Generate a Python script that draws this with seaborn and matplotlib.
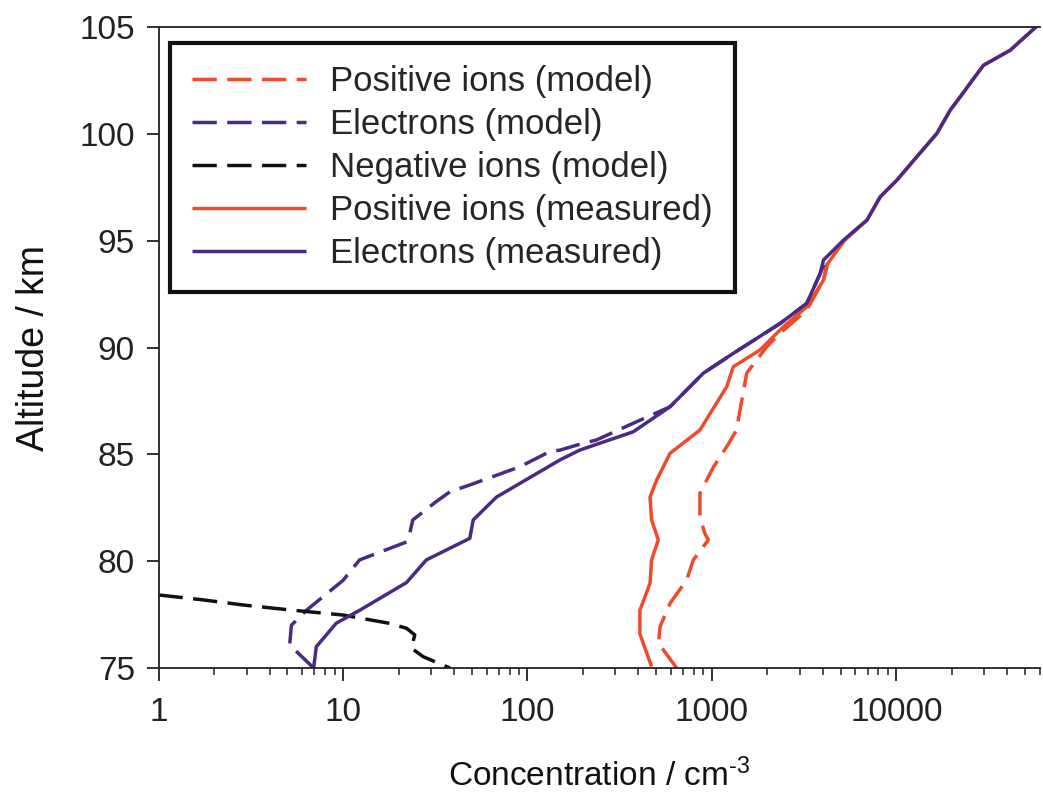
import matplotlib
matplotlib.use("Agg")
import matplotlib.pyplot as plt
import seaborn as sns
import pandas as pd
import numpy as np

# ---------------- data ----------------
pos_model_alt = [75.0, 76.16, 76.94, 78.03, 79.12, 80.06, 81.0, 81.3, 82.09, 83.18, 84.4, 85.36,
                 86.14, 87.08, 88.8, 90.04, 90.67, 91.76, 93.16, 93.94]
pos_model_conc = [644, 513, 524, 593, 730, 793, 957, 915, 861, 861, 1018, 1203,
                  1361, 1421, 1544, 1984, 2344, 3268, 4027, 4200]

ele_model_alt = [75.0, 76.08, 77.0, 77.7, 79.1, 80.06, 80.9, 81.3, 81.93, 82.79, 83.25, 83.57,
                 84.42, 85.13, 85.2, 85.52, 85.67, 86.46, 87.23, 88.8, 89.73, 91.13, 92.07, 93.47, 94.25]
ele_model_conc = [6.93, 5.14, 5.25, 6.33, 10.0, 12.3, 22.1, 23.0, 23.9, 32.0, 38.0, 48.7,
                  91, 132, 150, 200, 236, 375, 593, 898, 1306, 2344, 3268, 3864, 4200]

neg_model_alt = [78.42, 78.19, 77.95, 77.72, 77.48, 77.09, 76.86, 76.55, 75.93, 75.53, 75.0]
neg_model_conc = [1.0, 1.74, 2.87, 5.14, 10.0, 17.9, 22.1, 24.5, 23.5, 27.2, 38.0]

pos_meas_alt = [75.07, 76.6, 77.7, 78.97, 80.06, 81.0, 81.93, 83.0, 83.8, 85.05, 86.14, 88.17,
                89.1, 89.89, 90.98, 91.91, 93.16, 93.94, 95.03, 95.97, 97.06, 97.84, 98.93,
                100.03, 101.12, 101.74, 102.37, 103.22, 103.92, 105.05]
pos_meas_conc = [471, 407, 407, 462, 471, 512, 471, 462, 502, 593, 861, 1203,
                 1306, 1824, 2443, 3268, 4027, 4250, 5250, 6950, 8200, 10070, 12900,
                 16600, 19600, 22200, 25100, 29700, 41400, 57800]

ele_meas_alt = [75.0, 76.0, 77.1, 77.7, 79.0, 80.06, 81.07, 81.93, 83.0, 84.74, 85.2, 86.06,
                87.23, 88.8, 89.73, 91.13, 92.07, 93.47, 94.1, 95.03, 95.97, 97.06, 97.84,
                98.93, 100.03, 101.12, 101.74, 102.37, 103.22, 103.92, 105.05]
ele_meas_conc = [6.93, 7.17, 9.2, 12.3, 22.1, 28.3, 48.7, 50.8, 67.9, 150, 192, 375,
                 593, 898, 1306, 2344, 3268, 3864, 4027, 5170, 6920, 8170, 10070,
                 12900, 16600, 19600, 22200, 25100, 29700, 41400, 57800]

labels = ["Positive ions (model)", "Electrons (model)", "Negative ions (model)",
          "Positive ions (measured)", "Electrons (measured)"]
x_ticks = [1, 10, 100, 1000, 10000]
x_tick_labels = ["1", "10", "100", "1000", "10000"]
y_ticks = [75, 80, 85, 90, 95, 100, 105]

# ---------------- styling ----------------
RED = "#EE4A2C"
PURPLE = "#4A2A84"
BLACK = "#111111"

sns.set_theme(style="ticks")
plt.rcParams["font.family"] = ["Liberation Sans", "DejaVu Sans"]
plt.rcParams["mathtext.fontset"] = "custom"
plt.rcParams["mathtext.rm"] = "Liberation Sans"
plt.rcParams["mathtext.it"] = "Liberation Sans:italic"
plt.rcParams["mathtext.bf"] = "Liberation Sans:bold"

fig = plt.figure(figsize=(10.43, 8.0), dpi=100)
ax = fig.add_axes([0.152, 0.165, 0.845, 0.801])

series = [
    (pos_model_conc, pos_model_alt, RED, True),
    (ele_model_conc, ele_model_alt, PURPLE, True),
    (neg_model_conc, neg_model_alt, BLACK, True),
    (pos_meas_conc, pos_meas_alt, RED, False),
    (ele_meas_conc, ele_meas_alt, PURPLE, False),
]

lw = 2.5
for (c, a, col, dashed), lab in zip(series, labels):
    df = pd.DataFrame({"conc": c, "alt": a})
    sns.lineplot(data=df, x="conc", y="alt", sort=False, estimator=None,
                 color=col, linewidth=lw, ax=ax, label=lab, dashes=False)
    line = ax.lines[-1]
    if dashed:
        line.set_dashes((7, 3))
    line.set_solid_capstyle("butt")

ax.set_xscale("log")
ax.set_xlim(1, 60000)
ax.set_ylim(75, 105)
ax.set_yticks(y_ticks)
ax.set_xticks(x_ticks)
ax.set_xticklabels(x_tick_labels)

for s in ax.spines.values():
    s.set_color("#222222")
    s.set_linewidth(1.3)
ax.spines["right"].set_visible(False)

ax.tick_params(axis="both", which="major", labelsize=24, colors="#222222",
               length=9, width=1.3, direction="out")
ax.tick_params(axis="x", which="minor", length=5, width=1.1, direction="out", color="#222222")
ax.tick_params(axis="x", which="major", pad=12)
ax.tick_params(axis="y", which="major", pad=8)

ax.set_xlabel("Concentration / cm$^{\u2010\\mathregular{3}}$", fontsize=24,
              color="#111111", labelpad=22)
ax.set_ylabel("Altitude / km", fontsize=27, color="#111111", labelpad=20)

handles, labs = ax.get_legend_handles_labels()
leg = ax.legend(handles, labs, loc="upper left", bbox_to_anchor=(0.013, 0.975),
                borderaxespad=0, fontsize=25, frameon=True, fancybox=False,
                handlelength=3.3, handletextpad=0.7, labelspacing=0.29,
                borderpad=0.62)
leg.get_frame().set_edgecolor("#111111")
leg.get_frame().set_linewidth(3)
leg.get_frame().set_alpha(1)

fig.savefig("out.png", dpi=100)
